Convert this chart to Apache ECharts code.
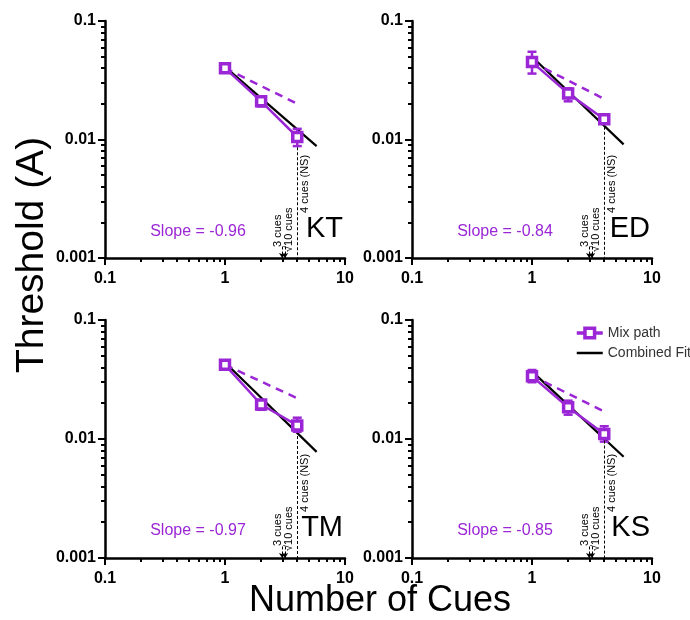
<!DOCTYPE html>
<html>
<head>
<meta charset="utf-8">
<script src="https://cdn.jsdelivr.net/npm/echarts@6/dist/echarts.min.js"></script>
<style>
html, body { margin: 0; background: #fff; }
#main { width: 690px; height: 620px; }
</style>
</head>
<body>
<div id="main"></div>
<script>
// data
var cues = [1, 2, 4];
var subjects = ['KT', 'ED', 'TM', 'KS'];
var slopes = ['-0.96', '-0.84', '-0.97', '-0.85'];

var meanKT = [0.040, 0.021, 0.0105];
var lowKT  = [0.037, 0.019, 0.0088];
var highKT = [0.044, 0.023, 0.0123];
var meanED = [0.045, 0.0245, 0.0148];
var lowED  = [0.036, 0.021, 0.0138];
var highED = [0.055, 0.027, 0.0158];
var meanTM = [0.042, 0.0195, 0.013];
var lowTM  = [0.039, 0.0176, 0.0115];
var highTM = [0.045, 0.021, 0.0151];
var meanKS = [0.0336, 0.0185, 0.011];
var lowKS  = [0.030, 0.016, 0.0095];
var highKS = [0.038, 0.021, 0.0128];

// sqrt prediction (dashed) and combined fit (black)
var predX = [1, 4];
var predY = [[0.040, 0.020], [0.045, 0.022], [0.042, 0.022], [0.034, 0.017]];
var fitX = [1, 5.8];
var fitY = [[0.041, 0.0088], [0.050, 0.0091], [0.044, 0.0078], [0.037, 0.0071]];

// 4 cues marker line, and the 3 / sqrt(10) arrows
var nsX = 4;
var nsTop = [0.0086, 0.0128, 0.0106, 0.0097];
var arrowX = [3, 3.16];
var arrowTop = 0.00125;

var xTicks = [0.1, 1, 10];
var yTicks = [0.001, 0.01, 0.1];

var means = [meanKT, meanED, meanTM, meanKS];
var lows = [lowKT, lowED, lowTM, lowKS];
var highs = [highKT, highED, highTM, highKS];

var purple = '#9b26d6';
var font = "'Liberation Sans', Arial, sans-serif";

var grids = [
  { left: 105, top: 21, width: 240, height: 237 },
  { left: 412, top: 21, width: 240, height: 237 },
  { left: 105, top: 320, width: 240, height: 238 },
  { left: 412, top: 320, width: 240, height: 238 }
];

var chart = echarts.init(document.getElementById('main'));

var xAxes = [], yAxes = [], series = [];
var axisCommon = {
  type: 'log',
  logBase: 10,
  axisLine: { lineStyle: { color: '#000', width: 2.5 } },
  axisTick: { length: 7, lineStyle: { color: '#000', width: 2 } },
  minorTick: { show: true, splitNumber: 9, length: 4, lineStyle: { color: '#000', width: 2 } },
  splitLine: { show: false },
  minorSplitLine: { show: false }
};

grids.forEach(function (g, i) {
  xAxes.push(Object.assign({}, axisCommon, {
    gridIndex: i, min: xTicks[0], max: xTicks[2],
    axisLabel: { color: '#000', fontSize: 16, fontWeight: 'bold', fontFamily: font, margin: 13 }
  }));
  yAxes.push(Object.assign({}, axisCommon, {
    gridIndex: i, min: yTicks[0], max: yTicks[2],
    axisLabel: { color: '#000', fontSize: 16, fontWeight: 'bold', fontFamily: font, margin: 9 }
  }));

  series.push({
    name: 'Combined Fit', type: 'line', xAxisIndex: i, yAxisIndex: i,
    data: fitX.map(function (x, k) { return [x, fitY[i][k]]; }),
    symbol: 'none', lineStyle: { color: '#000', width: 2.2 }, itemStyle: { color: '#000' }, z: 2
  });
  series.push({
    name: 'sqrt', type: 'line', xAxisIndex: i, yAxisIndex: i,
    data: predX.map(function (x, k) { return [x, predY[i][k]]; }),
    symbol: 'none', lineStyle: { color: purple, width: 2.5, type: [8, 6] }, z: 2
  });
  series.push({
    type: 'custom', xAxisIndex: i, yAxisIndex: i, z: 3,
    encode: { x: 0, y: [1, 2] },
    data: cues.map(function (c, k) { return [c, lows[i][k], highs[i][k]]; }),
    renderItem: function (params, api) {
      var lo = api.coord([api.value(0), api.value(1)]);
      var hi = api.coord([api.value(0), api.value(2)]);
      var w = 4.5;
      var st = { stroke: purple, lineWidth: 2.5 };
      return {
        type: 'group', children: [
          { type: 'line', shape: { x1: lo[0], y1: lo[1], x2: hi[0], y2: hi[1] }, style: st },
          { type: 'line', shape: { x1: lo[0] - w, y1: lo[1], x2: lo[0] + w, y2: lo[1] }, style: st },
          { type: 'line', shape: { x1: hi[0] - w, y1: hi[1], x2: hi[0] + w, y2: hi[1] }, style: st }
        ]
      };
    }
  });
  series.push({
    name: 'Mix path', type: 'line', xAxisIndex: i, yAxisIndex: i, z: 4,
    data: cues.map(function (c, k) { return [c, means[i][k]]; }),
    symbol: 'rect', symbolSize: 9,
    lineStyle: { color: purple, width: 2.5 },
    itemStyle: { color: '#fff', borderColor: purple, borderWidth: 3.5 },
    markLine: {
      silent: true, animation: false,
      label: { show: false },
      data: [
        [{ coord: [nsX, nsTop[i]], symbol: 'none' }, { coord: [nsX, yTicks[0]], symbol: 'none' }],
        [{ coord: [arrowX[0], arrowTop], symbol: 'none' }, { coord: [arrowX[0], yTicks[0]], symbol: 'arrow', symbolSize: 5 }],
        [{ coord: [arrowX[1], arrowTop], symbol: 'none' }, { coord: [arrowX[1], yTicks[0]], symbol: 'arrow', symbolSize: 5 }]
      ],
      lineStyle: { color: '#000', width: 1, type: [3, 2] }
    }
  });
});

chart.setOption({
  animation: false,
  backgroundColor: '#fff',
  grid: grids,
  xAxis: xAxes,
  yAxis: yAxes,
  legend: {
    data: [
      { name: 'Mix path', lineStyle: { width: 3.5 }, itemStyle: { borderWidth: 3.5 } },
      { name: 'Combined Fit', lineStyle: { width: 2.5 }, itemStyle: { opacity: 0 } }
    ],
    orient: 'vertical', left: 570, top: 321,
    itemWidth: 26, itemHeight: 12, itemGap: 6,
    textStyle: { fontSize: 14, color: '#333', fontFamily: font },
    selectedMode: false
  },
  series: series
});

// text labels placed through the chart's own coordinate conversion
var texts = [
  { type: 'text', x: 32, y: 255, rotation: Math.PI / 2,
    style: { text: 'Threshold (A)', font: '39px ' + font, fill: '#000', textAlign: 'center', textVerticalAlign: 'middle' } },
  { type: 'text', x: 380, y: 601,
    style: { text: 'Number of Cues', font: '36px ' + font, fill: '#000', textAlign: 'center', textVerticalAlign: 'middle' } }
];
grids.forEach(function (g, i) {
  var px = function (x, y) { return chart.convertToPixel({ gridIndex: i }, [x, y]); };
  texts.push({ type: 'text', x: g.left + 93, y: g.top + 211,
    style: { text: 'Slope = ' + slopes[i], font: '16px ' + font, fill: purple, textAlign: 'center', textVerticalAlign: 'middle' } });
  texts.push({ type: 'text', x: g.left + g.width - 2, y: g.top + 208,
    style: { text: subjects[i], font: '29px ' + font, fill: '#000', textAlign: 'right', textVerticalAlign: 'middle' } });
  var p4 = px(nsX, yTicks[0]);
  texts.push({ type: 'text', x: p4[0] + 2, y: g.top + 192, rotation: Math.PI / 2,
    style: { text: '4 cues (NS)', font: '11px ' + font, fill: '#000', textAlign: 'left', textVerticalAlign: 'top' } });
  var p10 = px(arrowX[1], yTicks[0]);
  texts.push({ type: 'text', x: p10[0] - 1, y: g.top + 231, rotation: Math.PI / 2,
    style: { text: '\u221A10 cues', font: '11px ' + font, fill: '#000', textAlign: 'left', textVerticalAlign: 'top' } });
  var p3 = px(arrowX[0], yTicks[0]);
  texts.push({ type: 'text', x: p3[0] - 10, y: g.top + 226, rotation: Math.PI / 2,
    style: { text: '3 cues', font: '11px ' + font, fill: '#000', textAlign: 'left', textVerticalAlign: 'top' } });
});
chart.setOption({ graphic: texts });
</script>
</body>
</html>
